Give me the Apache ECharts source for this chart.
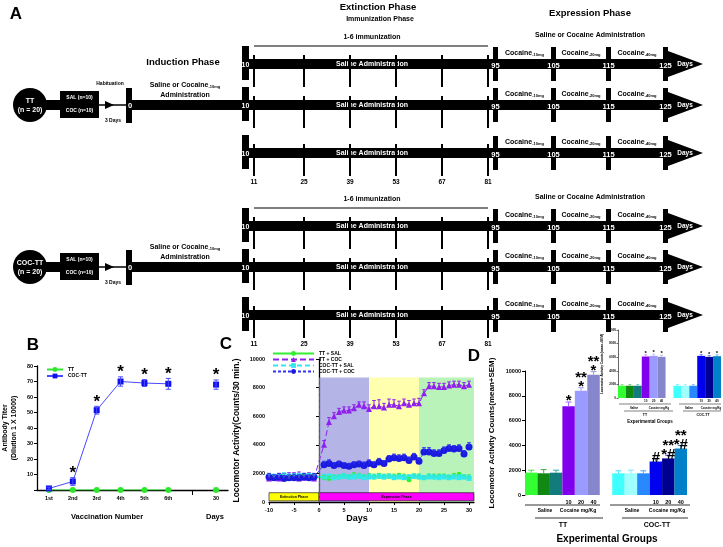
<!DOCTYPE html>
<html>
<head>
<meta charset="utf-8">
<script src="https://cdn.jsdelivr.net/npm/echarts@6/dist/echarts.min.js"></script>
<style>
html, body { margin: 0; padding: 0; background: #fff; }
#chart { width: 723px; height: 547px; }
</style>
</head>
<body>
<div id="chart"></div>
<script>
const FONT = 'Liberation Sans, Arial, sans-serif';

// panel B - antibody titer
const vaccLabels = ['1st', '2nd', '3rd', '4th', '5th', '6th', '', '30'];
const ttTiter = [0, 0, 0, 0, 0, 0, null, 0];
const cocTiter = [1, 5.5, 51.5, 70, 69, 68.5, null, 68];
const cocTiterErr = [0.8, 2.5, 2.5, 3, 2.2, 3.5, null, 3];
const titerMarks = ['', '*', '*', '*', '*', '*', '', '*'];

// panel C - locomotor activity by day
const daysC = [-10, -9, -8, -7, -6, -5, -4, -3, -2, -1,
  1, 2, 3, 4, 5, 6, 7, 8, 9, 10, 11, 12, 13, 14, 15, 16, 17, 18, 19, 20,
  21, 22, 23, 24, 25, 26, 27, 28, 29, 30];
const ttSal = [1750, 1700, 1750, 1700, 1650, 1750, 1700, 1750, 1700, 1750,
  1700, 1650, 1700, 1750, 1800, 1750, 1850, 1800, 1750, 1800,
  1750, 1800, 1750, 1800, 1750, 1850, 1750, 1550, 1800, 1750,
  1700, 1800, 1750, 1800, 1800, 1700, 1800, 1900, 1750, 1700];
const ttSalErr = [200, 150, 200, 150, 200, 150, 200, 150, 200, 150,
  150, 150, 200, 150, 200, 150, 200, 200, 150, 200,
  150, 200, 150, 150, 200, 150, 200, 150, 150, 200,
  150, 150, 200, 150, 150, 150, 200, 150, 150, 200];
const ttCoc = [1650, 1700, 1650, 1750, 1700, 1750, 1650, 1700, 1750, 1650,
  4000, 5600, 6000, 6300, 6400, 6400, 6550, 6800, 6700, 6500,
  6700, 6700, 6600, 6800, 6800, 6700, 6900, 6800, 6900, 6900,
  7600, 8100, 8100, 8050, 8050, 8150, 8200, 8200, 8100, 8200];
const ttCocErr = [300, 200, 350, 250, 350, 300, 450, 300, 300, 300,
  300, 300, 250, 250, 250, 250, 250, 200, 300, 300,
  400, 450, 300, 400, 350, 350, 300, 300, 300, 350,
  250, 250, 250, 250, 250, 250, 250, 250, 250, 250];
const cocSal = [1800, 1750, 1800, 1850, 1800, 1800, 1850, 1800, 1850, 1800,
  1750, 1800, 1700, 1750, 1800, 1750, 1750, 1800, 1700, 1750,
  1750, 1800, 1750, 1800, 1700, 1750, 1700, 1750, 1800, 1750,
  1700, 1750, 1750, 1700, 1750, 1700, 1750, 1700, 1750, 1650];
const cocSalErr = [200, 200, 150, 200, 150, 200, 150, 200, 150, 200,
  200, 150, 200, 150, 200, 150, 200, 150, 200, 200,
  200, 150, 200, 150, 200, 150, 200, 150, 150, 200,
  150, 200, 150, 200, 150, 200, 150, 200, 150, 200];
const cocCoc = [1750, 1700, 1750, 1650, 1700, 1700, 1700, 1750, 1700, 1750,
  2600, 2700, 2550, 2650, 2550, 2500, 2600, 2650, 2550, 2700,
  2600, 2800, 2700, 3000, 3100, 3050, 3100, 2900, 3150, 2850,
  3500, 3500, 3400, 3400, 3600, 3750, 3700, 3750, 3350, 3850];
const cocCocErr = [250, 200, 250, 200, 200, 250, 200, 250, 200, 250,
  250, 250, 200, 200, 200, 200, 200, 200, 250, 250,
  200, 250, 200, 250, 250, 250, 250, 250, 250, 250,
  300, 300, 250, 250, 250, 250, 250, 250, 250, 300];
const dayTicks = [-10, -5, 0, 5, 10, 15, 20, 25, 30];

// panel D - dose response bars (13 slots, 7th is the gap between groups)
const dCats = ['TT-S1', 'TT-S2', 'TT-S3', 'TT-10', 'TT-20', 'TT-40', 'gap',
  'CT-S1', 'CT-S2', 'CT-S3', 'CT-10', 'CT-20', 'CT-40'];
const doseLabels = ['', '', '', '10', '20', '40', '', '', '', '', '10', '20', '40'];
const dVals = [1800, 1750, 1800, 7150, 8400, 9700, null, 1750, 1750, 1750, 2700, 2950, 3750];
const dErr = [200, 300, 200, 350, 250, 250, null, 200, 250, 200, 250, 250, 250];
const dMarks = ['', '', '', '*', '**\n*', '**\n*', '', '', '', '', '#', '**\n*#', '**\n*#'];
const insetVals = [1800, 1800, 1800, 6100, 6200, 6050, null, 1800, 1800, 1800, 6200, 6050, 6150];
const insetErr = [180, 180, 180, 250, 250, 250, null, 180, 180, 180, 200, 200, 200];
const insetMarks = ['', '', '', '*', '*', '*', '', '', '', '', '*', '*', '*'];
const barColors = ['#33ff33', '#118811', '#127b7b', '#8000ee', '#9a9aff', '#8686cc', '#fff',
  '#40ffff', '#a0ffff', '#2a88ff', '#0000f0', '#000090', '#0080c8'];
const errColors = ['#44dd44', '#44aa44', '#33aaaa', '#a060ff', '#a0a0ff', '#9a9ae0', '#fff',
  '#40e0ff', '#80e8ff', '#4aa0ff', '#3a3aff', '#3a3ae0', '#2a9ae0'];

// panel A - schematic timeline
const immunTicksX = [254, 304, 350, 396, 442, 488];
const immunDays = ['11', '25', '39', '53', '67', '81'];
const exprBarsX = [493, 551, 606, 663];
const exprDays = ['95', '105', '115', '125'];
const doses = ['-10mg', '-20mg', '-40mg'];
const rowY = [64, 105, 153];

function txt(x, y, s, size, opts) {
  opts = opts || {};
  return {
    type: 'text', x: x, y: y, z: 100,
    style: {
      text: s, fill: opts.color || '#000', fontFamily: FONT, fontWeight: 'bold',
      fontSize: size, align: opts.align || 'center', verticalAlign: opts.va || 'middle',
      rich: opts.rich, lineHeight: opts.lh
    }
  };
}
function box(x, y, w, h, color) {
  return { type: 'rect', z: 100, shape: { x: x, y: y, width: w, height: h }, style: { fill: color || '#000' } };
}
function seg(x1, y1, x2, y2, w) {
  return { type: 'line', z: 100, shape: { x1: x1, y1: y1, x2: x2, y2: y2 }, style: { stroke: '#000', lineWidth: w || 1 } };
}
const subRich = {
  a: { fontSize: 7, fontWeight: 'bold', fontFamily: FONT },
  s: { fontSize: 4, fontWeight: 'bold', fontFamily: FONT, verticalAlign: 'bottom' }
};

const A = [];
A.push(txt(16, 14, 'A', 17));
A.push(txt(378, 7, 'Extinction Phase', 9.5));
A.push(txt(380, 19, 'Immunization Phase', 7));
A.push(txt(590, 13, 'Expression Phase', 9.5));
A.push(txt(183, 62, 'Induction Phase', 9.5));

[{ dy: 0, name: 'TT', first: true }, { dy: 162, name: 'COC-TT' }].forEach(function (sec) {
  const R = rowY.map(function (r) { return r + sec.dy; });
  const m = R[1];
  A.push(txt(372, R[0] - 27, '1-6 immunization', 7));
  A.push(seg(254, R[0] - 18, 488, R[0] - 18, 1.2));
  A.push(txt(590, R[0] - 29, 'Saline or Cocaine Administration', 7));
  // induction arm
  A.push({ type: 'circle', z: 100, shape: { cx: 30, cy: m, r: 17 }, style: { fill: '#000' } });
  A.push(txt(30, m - 4, sec.name, 7, { color: '#fff' }));
  A.push(txt(30, m + 5, '(n = 20)', 7, { color: '#fff' }));
  A.push(box(44, m - 5, 17, 10));
  A.push(box(60, m - 14, 39, 27));
  A.push(txt(79.5, m - 7, 'SAL (n=10)', 5, { color: '#fff' }));
  A.push(txt(79.5, m + 6, 'COC (n=10)', 5, { color: '#fff' }));
  A.push(seg(99, m, 127, m, 1.5));
  A.push({ type: 'polygon', z: 100, shape: { points: [[105, m - 4], [114, m], [105, m + 4]] }, style: { fill: '#000' } });
  if (sec.first) A.push(txt(110, m - 21, 'Habituation', 5));
  A.push(txt(113, m + 16, '3 Days', 5));
  A.push(box(126, m - 17, 6, 35));
  A.push(box(132, m - 5, 112, 10));
  A.push(txt(130, m + 1, '0', 7.5, { color: '#fff' }));
  A.push(txt(185, m - 20, '{a|Saline or Cocaine}{s|-10mg}', 7, { rich: subRich }));
  A.push(txt(185, m - 10, 'Administration', 7));
  // the three extinction / expression rows
  R.forEach(function (y) {
    A.push(box(243, y - 5, 425, 10));
    A.push(box(242, y - 18, 7, 34));
    A.push({ type: 'polygon', z: 100, shape: { points: [[668, y - 13], [703, y], [668, y + 13]] }, style: { fill: '#000' } });
    A.push(txt(245.5, y + 1, '10', 7, { color: '#fff' }));
    A.push(txt(372, y, 'Saline Administration', 7, { color: '#fff' }));
    immunTicksX.forEach(function (x) { A.push(box(x - 1, y - 9, 2, 32)); });
    exprBarsX.forEach(function (x, k) {
      A.push(box(x, y - 17, 5, 34));
    });
    exprBarsX.forEach(function (x, k) {
      A.push(txt(x + 2.5, y + 1.5, exprDays[k], 7.5, { color: '#fff' }));
    });
    doses.forEach(function (d, k) {
      const cx = (exprBarsX[k] + exprBarsX[k + 1] + 5) / 2;
      A.push(txt(cx, y - 11, '{a|Cocaine}{s|' + d + '}', 7, { rich: subRich }));
    });
    A.push(txt(685, y, 'Days', 6.5, { color: '#fff' }));
  });
  immunTicksX.forEach(function (x, k) { A.push(txt(x, R[2] + 29, immunDays[k], 6.5)); });
});

// panel labels and free text for B, C, D
A.push(txt(33, 345, 'B', 17));
A.push(txt(226, 344, 'C', 17));
A.push(txt(474, 356, 'D', 17));
A.push(txt(107, 517, 'Vaccination Number', 7.5));
A.push(txt(215, 517, 'Days', 7.5));
A.push(txt(357, 519, 'Days', 9));
// D group captions
A.push(seg(525, 505, 600, 505, 0.8));
A.push(seg(610, 505, 690, 505, 0.8));
A.push(txt(545, 511, 'Saline', 5));
A.push(txt(578, 511, 'Cocaine mg/Kg', 5));
A.push(txt(632, 511, 'Saline', 5));
A.push(txt(667, 511, 'Cocaine mg/Kg', 5));
A.push(seg(535, 518, 603, 518, 0.8));
A.push(seg(622, 518, 688, 518, 0.8));
A.push(txt(563, 525, 'TT', 7));
A.push(txt(657, 525, 'COC-TT', 7));
A.push(txt(607, 539, 'Experimental Groups', 10));
// inset captions
A.push(seg(619, 404, 671, 404, 0.5));
A.push(seg(679, 404, 721, 404, 0.5));
A.push(txt(634, 408, 'Saline', 2.8));
A.push(txt(659, 408, 'Cocaine mg/Kg', 2.8));
A.push(txt(689, 408, 'Saline', 2.8));
A.push(txt(711, 408, 'Cocaine mg/Kg', 2.8));
A.push(seg(624, 411, 673, 411, 0.5));
A.push(seg(683, 411, 721, 411, 0.5));
A.push(txt(645, 415, 'TT', 3.5));
A.push(txt(703, 415, 'COC-TT', 3.5));
A.push(txt(650, 422, 'Experimental Groups', 4.5));

function errorBars(xi, xs, ys, errs, color, both, cap, width) {
  const data = [], cols = [];
  xs.forEach(function (x, i) {
    if (ys[i] != null && errs[i] != null) {
      data.push([x, ys[i], errs[i]]);
      cols.push(Array.isArray(color) ? color[i] : color);
    }
  });
  return {
    type: 'custom', xAxisIndex: xi, yAxisIndex: xi, data: data, z: 4, silent: true,
    renderItem: function (params, api) {
      const x = api.value(0), y = api.value(1), e = api.value(2);
      const top = api.coord([x, y + e]);
      const bot = api.coord([x, both ? y - e : y]);
      const st = { stroke: cols[params.dataIndex], lineWidth: width || 1 };
      const ch = [
        { type: 'line', shape: { x1: top[0], y1: top[1], x2: bot[0], y2: bot[1] }, style: st },
        { type: 'line', shape: { x1: top[0] - cap, y1: top[1], x2: top[0] + cap, y2: top[1] }, style: st }
      ];
      if (both) ch.push({ type: 'line', shape: { x1: bot[0] - cap, y1: bot[1], x2: bot[0] + cap, y2: bot[1] }, style: st });
      return { type: 'group', children: ch };
    }
  };
}
function marks(xi, xs, ys, errs, labels, size, lh) {
  const data = [], texts = [];
  xs.forEach(function (x, i) {
    if (labels[i]) { data.push([x, ys[i] + (errs[i] || 0)]); texts.push(labels[i]); }
  });
  return {
    type: 'custom', xAxisIndex: xi, yAxisIndex: xi, data: data, z: 5, silent: true,
    renderItem: function (params, api) {
      const p = api.coord([api.value(0), api.value(1)]);
      return {
        type: 'text', x: p[0], y: p[1] + size * 0.25,
        style: { text: texts[params.dataIndex], fill: '#000', fontFamily: FONT, fontWeight: 'bold', fontSize: size, lineHeight: lh, align: 'center', verticalAlign: 'bottom' }
      };
    }
  };
}
function pairs(xs, ys) { return xs.map(function (x, i) { return [x, ys[i]]; }); }
function plain(v) { return String(v); }

const axisBlack = { show: true, lineStyle: { color: '#000', width: 1.3 } };
const lbl = function (size) { return { fontSize: size, fontWeight: 'bold', color: '#000', fontFamily: FONT }; };
const idx = vaccLabels.map(function (v, i) { return i; });
const dIdx = dCats.map(function (v, i) { return i; });

const option = {
  animation: false,
  textStyle: { fontFamily: FONT },
  grid: [
    { left: 34, top: 366, width: 194, height: 124 },
    { left: 269, top: 359, width: 205, height: 143 },
    { left: 525, top: 371, width: 162, height: 124 },
    { left: 618, top: 330, width: 103, height: 68 }
  ],
  xAxis: [
    { gridIndex: 0, type: 'category', data: vaccLabels, axisLine: axisBlack,
      axisTick: { show: true, alignWithLabel: true, interval: function (i) { return i === 6; }, length: 5, lineStyle: { color: '#000' } },
      axisLabel: Object.assign({ interval: 0, margin: 5 }, lbl(5.5)) },
    { gridIndex: 1, type: 'value', min: -10, max: 31, axisLine: axisBlack, splitLine: { show: false },
      axisTick: { show: true, customValues: dayTicks, length: 3, lineStyle: { color: '#000' } },
      axisLabel: Object.assign({ customValues: dayTicks, margin: 5 }, lbl(5.5)) },
    { gridIndex: 2, type: 'category', data: dCats, axisLine: { show: false }, axisTick: { show: false },
      axisLabel: Object.assign({ interval: 0, margin: 4, formatter: function (v, i) { return doseLabels[i]; } }, lbl(5.5)) },
    { gridIndex: 3, type: 'category', data: dCats, axisLine: { show: false }, axisTick: { show: false },
      axisLabel: Object.assign({ interval: 0, margin: 2, formatter: function (v, i) { return doseLabels[i]; } }, lbl(3)) }
  ],
  yAxis: [
    { gridIndex: 0, type: 'value', min: 0, max: 80, interval: 10, axisLine: axisBlack, splitLine: { show: false },
      axisTick: { show: true, length: 3, lineStyle: { color: '#000' } },
      axisLabel: Object.assign({ margin: 4, formatter: function (v) { return v === 0 ? '' : String(v); } }, lbl(5.5)),
      name: 'Antibody Titer\n(Dilution 1 X 10000)', nameLocation: 'middle', nameRotate: 90, nameGap: 18,
      nameTextStyle: Object.assign({ lineHeight: 9 }, lbl(7)) },
    { gridIndex: 1, type: 'value', min: 0, max: 10000, interval: 2000, axisLine: axisBlack, splitLine: { show: false },
      axisTick: { show: true, length: 3, lineStyle: { color: '#000' } },
      axisLabel: Object.assign({ margin: 4, formatter: plain }, lbl(5.5)),
      name: 'Locomotor Activity(Counts/30 min.)', nameLocation: 'middle', nameRotate: 90, nameGap: 28,
      nameTextStyle: lbl(8.5) },
    { gridIndex: 2, type: 'value', min: 0, max: 10000, interval: 2000, axisLine: { show: true, lineStyle: { color: '#000', width: 1 } },
      splitLine: { show: false }, axisTick: { show: true, length: 3, lineStyle: { color: '#000' } },
      axisLabel: Object.assign({ margin: 4, formatter: plain }, lbl(5.5)),
      name: 'Locomotor Activity Counts(mean+SEM)', nameLocation: 'middle', nameRotate: 90, nameGap: 29,
      nameTextStyle: lbl(8) },
    { gridIndex: 3, type: 'value', min: 0, max: 10000, interval: 2000, axisLine: { show: true, lineStyle: { color: '#000', width: 0.6 } },
      splitLine: { show: false }, axisTick: { show: true, length: 1.5, lineStyle: { color: '#000', width: 0.6 } },
      axisLabel: Object.assign({ margin: 2, formatter: plain }, lbl(3)),
      name: 'Locomotor Activity Counts(mean+SEM)', nameLocation: 'middle', nameRotate: 90, nameGap: 12,
      nameTextStyle: lbl(3.2) }
  ],
  legend: [
    { data: ['TT', 'COC-TT'], orient: 'vertical', left: 41, top: 362, itemWidth: 16, itemHeight: 6, itemGap: 1.5,
      textStyle: lbl(5) },
    { data: ['TT + SAL', 'TT + COC', 'COC-TT + SAL', 'COC-TT + COC'], orient: 'vertical', left: 267, top: 346,
      itemWidth: 41, itemHeight: 6, itemGap: 1, textStyle: lbl(5) }
  ],
  series: [
    // B
    { name: 'TT', type: 'line', xAxisIndex: 0, yAxisIndex: 0, data: ttTiter, symbol: 'circle', symbolSize: 6,
      color: '#2ee62e', lineStyle: { width: 1.2, color: '#2ee62e' }, z: 3 },
    { name: 'COC-TT', type: 'line', xAxisIndex: 0, yAxisIndex: 0, data: cocTiter, symbol: 'rect', symbolSize: 6,
      color: '#1010ee', lineStyle: { width: 1, color: '#4a4aff' }, z: 3 },
    errorBars(0, idx, cocTiter, cocTiterErr, '#4a4aff', true, 2.5),
    marks(0, idx, cocTiter, cocTiterErr, titerMarks, 17),
    // C
    { name: 'TT + SAL', type: 'line', xAxisIndex: 1, yAxisIndex: 1, data: pairs(daysC, ttSal), symbol: 'circle', symbolSize: 5,
      color: '#33ee33', lineStyle: { width: 1, color: '#33ee33' }, z: 3,
      markArea: { silent: true, data: [
        [{ xAxis: 0, yAxis: 0, itemStyle: { color: 'rgba(130,130,215,0.6)' } }, { xAxis: 10, yAxis: 8700 }],
        [{ xAxis: 10, yAxis: 0, itemStyle: { color: 'rgba(255,255,140,0.7)' } }, { xAxis: 20, yAxis: 8700 }],
        [{ xAxis: 20, yAxis: 0, itemStyle: { color: 'rgba(140,235,140,0.6)' } }, { xAxis: 31, yAxis: 8700 }]
      ] } },
    { name: 'TT + COC', type: 'line', xAxisIndex: 1, yAxisIndex: 1, data: pairs(daysC, ttCoc), symbol: 'triangle', symbolSize: 6,
      color: '#9020ee', lineStyle: { width: 1, color: '#9020ee', type: [6, 3] }, z: 3 },
    { name: 'COC-TT + SAL', type: 'line', xAxisIndex: 1, yAxisIndex: 1, data: pairs(daysC, cocSal), symbol: 'rect', symbolSize: 5,
      color: '#30e8f0', lineStyle: { width: 1, color: '#30e8f0', type: [5, 3] }, z: 3 },
    { name: 'COC-TT + COC', type: 'line', xAxisIndex: 1, yAxisIndex: 1, data: pairs(daysC, cocCoc), symbol: 'circle', symbolSize: 7,
      color: '#1a1ae0', lineStyle: { width: 1, color: '#3030f0', type: [3, 2] }, z: 3,
      markLine: { silent: true, symbol: 'none', label: { show: false },
        lineStyle: { color: '#e03030', type: 'dashed', width: 1 },
        data: [[{ xAxis: 0, yAxis: 0 }, { xAxis: 0, yAxis: 8700 }]] },
      markArea: { silent: true, label: { show: true, position: 'inside', fontSize: 3.5, fontWeight: 'bold', color: '#000' },
        data: [
          [{ name: 'Extinction Phase', xAxis: -10, yAxis: 80, itemStyle: { color: '#ffff00', borderColor: '#000', borderWidth: 0.6 } }, { xAxis: 0, yAxis: 650 }],
          [{ name: 'Expression Phase', xAxis: 0, yAxis: 80, itemStyle: { color: '#ff00ff', borderColor: '#000', borderWidth: 0.6 } }, { xAxis: 31, yAxis: 650 }]
        ] } },
    errorBars(1, daysC, ttSal, ttSalErr, '#33ee33', false, 1.8),
    errorBars(1, daysC, ttCoc, ttCocErr, '#9020ee', false, 1.8),
    errorBars(1, daysC, cocSal, cocSalErr, '#30e8f0', false, 1.8),
    errorBars(1, daysC, cocCoc, cocCocErr, '#3030f0', false, 1.8),
    // D
    { type: 'bar', xAxisIndex: 2, yAxisIndex: 2, barCategoryGap: '0%', z: 2,
      data: dVals.map(function (v, i) { return v == null ? '-' : { value: v, itemStyle: { color: barColors[i] } }; }) },
    errorBars(2, dIdx, dVals, dErr, errColors, false, 3),
    marks(2, dIdx, dVals, dErr, dMarks, 15, 9),
    // D inset
    { type: 'bar', xAxisIndex: 3, yAxisIndex: 3, barCategoryGap: '0%', z: 2,
      data: insetVals.map(function (v, i) { return v == null ? '-' : { value: v, itemStyle: { color: barColors[i] } }; }) },
    errorBars(3, dIdx, insetVals, insetErr, errColors, false, 1.5, 0.6),
    marks(3, dIdx, insetVals, insetErr, insetMarks, 6)
  ],
  graphic: { elements: A }
};

const chart = echarts.init(document.getElementById('chart'), null, { renderer: 'canvas' });
chart.setOption(option);
</script>
</body>
</html>
